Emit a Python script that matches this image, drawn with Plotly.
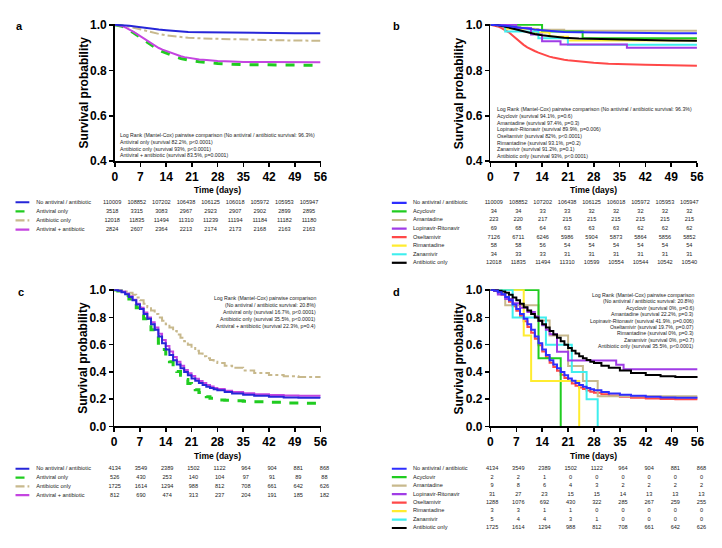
import plotly.graph_objects as go

W, H = 722, 548
FONT = "Liberation Sans"
TICK_DAYS = [0, 7, 14, 21, 28, 35, 42, 49, 56]

# ---------------- data: panel a / b (large groups) ----------------
AB_DAYS_COARSE = [0, 2, 4, 6, 8, 10, 12, 14, 17, 20, 24, 28, 35, 42, 49, 56]
ab_none = [1.0, 0.999, 0.996, 0.992, 0.987, 0.982, 0.979, 0.976, 0.972, 0.969, 0.967, 0.966, 0.965, 0.964, 0.9635, 0.963]
ab_abx = [1.0, 0.998, 0.992, 0.984, 0.975, 0.966, 0.96, 0.954, 0.948, 0.943, 0.94, 0.938, 0.935, 0.933, 0.931, 0.93]

AB_DAYS_DENSE = list(range(0, 22)) + [23, 25, 28, 32, 35, 42, 49, 56]
a_antiviral = [1.0, 0.998, 0.994, 0.986, 0.977, 0.966, 0.955, 0.944, 0.932, 0.92, 0.909, 0.899, 0.89, 0.882,
               0.875, 0.868, 0.862, 0.857, 0.852, 0.848, 0.845, 0.842, 0.838, 0.834, 0.83, 0.827, 0.825, 0.824, 0.823, 0.822]
a_both = [1.0, 0.999, 0.995, 0.988, 0.98, 0.97, 0.96, 0.949, 0.938, 0.927, 0.916, 0.906, 0.898, 0.891,
          0.885, 0.878, 0.872, 0.867, 0.862, 0.858, 0.855, 0.852, 0.848, 0.845, 0.841, 0.839, 0.837, 0.836, 0.8355, 0.835]
b_oseltamivir = [1.0, 0.998, 0.993, 0.986, 0.978, 0.967, 0.953, 0.938, 0.925, 0.912, 0.901, 0.892, 0.885, 0.878,
                 0.871, 0.865, 0.86, 0.856, 0.852, 0.849, 0.846, 0.844, 0.84, 0.837, 0.833, 0.829, 0.827, 0.824, 0.822, 0.82]

# panel b small groups (Kaplan-Meier steps)
b_acyclovir_d = [0, 14, 25, 56]
b_acyclovir = [1.0, 0.971, 0.941, 0.941]
b_amantadine_d = [0, 2, 5, 8, 10, 13, 20, 56]
b_amantadine = [1.0, 0.996, 0.991, 0.987, 0.982, 0.978, 0.974, 0.974]
b_lopinavir_d = [0, 7, 11, 14, 19, 37, 56]
b_lopinavir = [1.0, 0.986, 0.957, 0.928, 0.913, 0.899, 0.899]
b_rimantadine_d = [0, 4, 12, 16, 21, 56]
b_rimantadine = [1.0, 0.983, 0.966, 0.948, 0.931, 0.931]
b_zanamivir_d = [0, 4, 13, 21, 56]
b_zanamivir = [1.0, 0.971, 0.941, 0.912, 0.912]

# ---------------- data: panel c / d ----------------
CD_DAYS = list(range(0, 29)) + [30, 32, 35, 38, 42, 46, 50, 56]
cd_none = [1.0, 0.995, 0.985, 0.97, 0.95, 0.925, 0.895, 0.862, 0.825, 0.79, 0.75, 0.71, 0.66, 0.61, 0.565,
           0.525, 0.485, 0.455, 0.427, 0.40, 0.375, 0.352, 0.335, 0.318, 0.304, 0.292, 0.282, 0.273, 0.265,
           0.252, 0.242, 0.232, 0.225, 0.218, 0.213, 0.21, 0.208]
c_both = [1.0, 0.997, 0.99, 0.975, 0.955, 0.93, 0.90, 0.87, 0.835, 0.8, 0.765, 0.725, 0.68, 0.635, 0.59,
          0.55, 0.51, 0.475, 0.445, 0.415, 0.39, 0.37, 0.35, 0.333, 0.318, 0.305, 0.293, 0.283, 0.275,
          0.262, 0.252, 0.243, 0.236, 0.23, 0.227, 0.225, 0.223]
c_antiviral = [1.0, 0.993, 0.98, 0.96, 0.935, 0.905, 0.87, 0.83, 0.79, 0.75, 0.71, 0.66, 0.61, 0.565, 0.52,
               0.475, 0.435, 0.403, 0.375, 0.345, 0.315, 0.29, 0.27, 0.25, 0.233, 0.218, 0.207, 0.2, 0.195,
               0.192, 0.189, 0.185, 0.181, 0.177, 0.173, 0.17, 0.167]
cd_abx = [1.0, 0.998, 0.995, 0.99, 0.98, 0.965, 0.945, 0.925, 0.9, 0.875, 0.85, 0.825, 0.8, 0.775, 0.75,
          0.725, 0.7, 0.675, 0.65, 0.625, 0.6, 0.575, 0.555, 0.535, 0.515, 0.5, 0.487, 0.475, 0.465,
          0.445, 0.43, 0.41, 0.393, 0.378, 0.368, 0.362, 0.355]
d_oseltamivir = [1.0, 0.994, 0.982, 0.965, 0.943, 0.915, 0.882, 0.848, 0.81, 0.772, 0.73, 0.688, 0.643, 0.595, 0.55,
                 0.508, 0.468, 0.437, 0.408, 0.38, 0.355, 0.333, 0.315, 0.299, 0.286, 0.274, 0.264, 0.255, 0.248,
                 0.236, 0.227, 0.218, 0.211, 0.205, 0.201, 0.199, 0.197]

d_acyclovir_d = [0, 13, 19]
d_acyclovir = [1.0, 0.5, 0.0]
d_amantadine_d = [0, 4, 13, 16, 21, 25, 29, 56]
d_amantadine = [1.0, 0.889, 0.778, 0.667, 0.444, 0.333, 0.222, 0.222]
d_lopinavir_d = [0, 2, 4, 6, 8, 10, 12, 13, 14, 15, 16, 18, 21, 34, 36, 56]
d_lopinavir = [1.0, 0.968, 0.935, 0.903, 0.871, 0.839, 0.806, 0.774, 0.742, 0.71, 0.677, 0.548, 0.484, 0.452, 0.419, 0.419]
d_rimantadine_d = [0, 9, 11, 24]
d_rimantadine = [1.0, 0.667, 0.333, 0.0]
d_zanamivir_d = [0, 6, 15, 22, 26, 29]
d_zanamivir = [1.0, 0.8, 0.6, 0.4, 0.2, 0.0]

# ---------------- numbers at risk ----------------
AC_LABELS = ["No antiviral / antibiotic", "Antiviral only", "Antibiotic only", "Antiviral + antibiotic"]
BD_LABELS = ["No antiviral / antibiotic", "Acyclovir", "Amantadine", "Lopinavir-Ritonavir",
             "Oseltamivir", "Rimantadine", "Zanamivir", "Antibiotic only"]

a_risk = [
    [110009, 108852, 107202, 106438, 106125, 106018, 105972, 105953, 105947],
    [3518, 3315, 3083, 2967, 2923, 2907, 2902, 2899, 2895],
    [12018, 11835, 11494, 11310, 11239, 11194, 11184, 11182, 11180],
    [2824, 2607, 2364, 2213, 2174, 2173, 2168, 2163, 2163],
]
b_risk = [
    [110009, 108852, 107202, 106438, 106125, 106018, 105972, 105953, 105947],
    [34, 34, 33, 33, 32, 32, 32, 32, 32],
    [223, 220, 217, 215, 215, 215, 215, 215, 215],
    [69, 68, 64, 63, 63, 63, 62, 62, 62],
    [7126, 6711, 6246, 5986, 5904, 5873, 5864, 5856, 5852],
    [58, 58, 56, 54, 54, 54, 54, 54, 54],
    [34, 33, 33, 31, 31, 31, 31, 31, 31],
    [12018, 11835, 11494, 11310, 10599, 10554, 10544, 10542, 10540],
]
c_risk = [
    [4134, 3549, 2389, 1502, 1122, 964, 904, 881, 868],
    [526, 430, 253, 140, 104, 97, 91, 89, 88],
    [1725, 1614, 1294, 988, 812, 708, 661, 642, 626],
    [812, 690, 474, 313, 237, 204, 191, 185, 182],
]
d_risk = [
    [4134, 3549, 2389, 1502, 1122, 964, 904, 881, 868],
    [2, 2, 1, 0, 0, 0, 0, 0, 0],
    [9, 8, 6, 4, 3, 2, 2, 2, 2],
    [31, 27, 23, 15, 15, 14, 13, 13, 13],
    [1288, 1076, 692, 430, 322, 285, 267, 259, 255],
    [3, 3, 1, 1, 0, 0, 0, 0, 0],
    [5, 4, 4, 3, 1, 0, 0, 0, 0],
    [1725, 1614, 1294, 988, 812, 708, 661, 642, 626],
]

a_notes = ["Log Rank (Mantel-Cox) pairwise comparison (No antiviral / antibiotic survival: 96.3%)",
           "Antiviral only (survival 82.2%, p<0.0001)",
           "Antibiotic only (survival 93%, p<0.0001)",
           "Antiviral + antibiotic (survival 83.5%, p=0.0001)"]
b_notes = ["Log Rank (Mantel-Cox) pairwise comparison (No antiviral / antibiotic survival: 96.3%)",
           "Acyclovir (survival 94.1%, p=0.6)",
           "Amantadine (survival 97.4%, p=0.3)",
           "Lopinavir-Ritonavir (survival 89.9%, p=0.006)",
           "Oseltamivir (survival 82%, p<0.0001)",
           "Rimantadine (survival 93.1%, p=0.2)",
           "Zanamivir (survival 91.2%, p=0.1)",
           "Antibiotic only (survival 93%, p<0.0001)"]
c_notes = ["Log Rank (Mantel-Cox) pairwise comparison",
           "(No antiviral / antibiotic survival: 20.8%)",
           "Antiviral only (survival 16.7%, p<0.0001)",
           "Antibiotic only (survival 35.5%, p<0.0001)",
           "Antiviral + antibiotic (survival 22.3%, p=0.4)"]
d_notes = ["Log Rank (Mantel-Cox) pairwise comparison",
           "(No antiviral / antibiotic survival: 20.8%)",
           "Acyclovir (survival 0%, p=0.6)",
           "Amantadine (survival 22.2%, p=0.3)",
           "Lopinavir-Ritonavir (survival 41.9%, p=0.006)",
           "Oseltamivir (survival 19.7%, p=0.07)",
           "Rimantadine (survival 0%, p=0.3)",
           "Zanamivir (survival 0%, p=0.7)",
           "Antibiotic only (survival 35.5%, p<0.0001)"]

# ---------------- styles ----------------
BLUE_AC = "#2626d8"
BLUE_BD = "#2e2eff"
GREEN = "#20cc20"
TAN = "#c8b98d"
MAGENTA = "#c445e0"
PURPLE = "#a03ce6"
RED = "#ff4848"
YELLOW = "#ffec30"
CYAN = "#3eeeee"
BLACK = "#000000"

ST_AC = [dict(color=BLUE_AC, width=2), dict(color=GREEN, width=3, dash="dash"),
         dict(color=TAN, width=2, dash="dashdot"), dict(color=MAGENTA, width=2)]
ST_BD = [dict(color=BLUE_BD, width=2), dict(color=GREEN, width=2), dict(color=TAN, width=2),
         dict(color=PURPLE, width=2), dict(color=RED, width=2), dict(color=YELLOW, width=2),
         dict(color=CYAN, width=2), dict(color=BLACK, width=2)]


def py2y(py):
    return 1 - py / H


def vdomain(py_lo, py_hi, lo, hi, hi_ext):
    ppu = (py_lo - py_hi) / (hi - lo)
    top = py_hi - (hi_ext - hi) * ppu
    return [py2y(py_lo), py2y(top)]


fig = go.Figure()

PANELS = {
    1: dict(x=(113.3, 322.0), ylo=159.0, yhi=19.3, lo=0.4, ext=1.004, ticks=[0.4, 0.6, 0.8, 1.0]),
    2: dict(x=(494.3, 703.7), ylo=159.0, yhi=19.3, lo=0.4, ext=1.004, ticks=[0.4, 0.6, 0.8, 1.0]),
    3: dict(x=(112.7, 322.0), ylo=430.7, yhi=291.0, lo=0.0, ext=1.006, ticks=[0.0, 0.2, 0.4, 0.6, 0.8, 1.0]),
    4: dict(x=(494.3, 704.3), ylo=430.7, yhi=291.0, lo=0.0, ext=1.006, ticks=[0.0, 0.2, 0.4, 0.6, 0.8, 1.0]),
}

axfont = dict(family=FONT, size=12, color="black", weight="bold")
layout = {}
for k, p in PANELS.items():
    sx = "" if k == 1 else str(k)
    layout["xaxis" + sx] = dict(domain=[p["x"][0] / W, p["x"][1] / W], range=[0, 56], tickvals=TICK_DAYS,
                                anchor="y" + sx, showline=True, linecolor="black", linewidth=1.6,
                                ticks="outside", ticklen=4, tickwidth=1.6, tickcolor="black",
                                showgrid=False, zeroline=False, tickfont=axfont, fixedrange=True)
    layout["yaxis" + sx] = dict(domain=vdomain(p["ylo"], p["yhi"], p["lo"], 1.0, p["ext"]),
                                range=[p["lo"], p["ext"]], tickvals=p["ticks"], tickformat=".1f",
                                anchor="x" + sx, showline=True, linecolor="black", linewidth=1.6,
                                ticks="outside", ticklen=4, tickwidth=1.6, tickcolor="black",
                                showgrid=False, zeroline=False, tickfont=axfont, fixedrange=True)


def curve(k, x, y, style, shape="linear"):
    sx = "" if k == 1 else str(k)
    fig.add_trace(go.Scatter(x=x, y=y, mode="lines", line=dict(shape=shape, **style),
                             xaxis="x" + sx, yaxis="y" + sx, showlegend=False, hoverinfo="skip"))


# panel a
curve(1, AB_DAYS_COARSE, ab_abx, ST_AC[2])
curve(1, AB_DAYS_DENSE, a_antiviral, ST_AC[1])
curve(1, AB_DAYS_DENSE, a_both, ST_AC[3])
curve(1, AB_DAYS_COARSE, ab_none, ST_AC[0])

# panel b
curve(2, AB_DAYS_DENSE, b_oseltamivir, ST_BD[4])
curve(2, b_amantadine_d, b_amantadine, ST_BD[2], "hv")
curve(2, b_acyclovir_d, b_acyclovir, ST_BD[1], "hv")
curve(2, b_rimantadine_d, b_rimantadine, ST_BD[5], "hv")
curve(2, b_zanamivir_d, b_zanamivir, ST_BD[6], "hv")
curve(2, b_lopinavir_d, b_lopinavir, ST_BD[3], "hv")
curve(2, AB_DAYS_COARSE, ab_abx, ST_BD[7])
curve(2, AB_DAYS_COARSE, ab_none, ST_BD[0])

# panel c
curve(3, CD_DAYS, cd_abx, ST_AC[2], "hv")
curve(3, CD_DAYS, c_antiviral, ST_AC[1], "hv")
curve(3, CD_DAYS, c_both, ST_AC[3], "hv")
curve(3, CD_DAYS, cd_none, ST_AC[0], "hv")

# panel d
curve(4, CD_DAYS, d_oseltamivir, ST_BD[4], "hv")
curve(4, d_amantadine_d, d_amantadine, ST_BD[2], "hv")
curve(4, d_acyclovir_d, d_acyclovir, ST_BD[1], "hv")
curve(4, d_rimantadine_d, d_rimantadine, ST_BD[5], "hv")
curve(4, d_zanamivir_d, d_zanamivir, ST_BD[6], "hv")
curve(4, d_lopinavir_d, d_lopinavir, ST_BD[3], "hv")
curve(4, CD_DAYS, cd_abx, ST_BD[7], "hv")
curve(4, CD_DAYS, cd_none, ST_BD[0], "hv")

# ---------------- numbers-at-risk tables ----------------
TABLES = [
    (5, (0, 361), 110.7, 310.3, 201.0, 9.33, (12.7, 26.7), 35.7, AC_LABELS, a_risk, ST_AC),
    (6, (361, 722), 497.7, 696.0, 201.7, 8.76, (394.3, 409.3), 417.7, BD_LABELS, b_risk, ST_BD),
    (7, (0, 361), 113.3, 326.0, 474.0, 9.0, (12.7, 26.7), 35.7, AC_LABELS, c_risk, ST_AC),
    (8, (361, 722), 496.0, 708.3, 474.0, 8.67, (394.3, 409.3), 417.7, BD_LABELS, d_risk, ST_BD),
]
tfont = dict(family=FONT, size=5.6, color="#222222")
for aid, dom, p0, p56, row0, step, sw, lab, labels, risk, styles in TABLES:
    s = (p56 - p0) / 56.0
    n = len(labels)
    layout["xaxis%d" % aid] = dict(domain=[dom[0] / W, dom[1] / W],
                                   range=[(dom[0] - p0) / s, (dom[1] - p0) / s], visible=False, fixedrange=True)
    top = row0 - step / 2
    bot = row0 + step * (n - 0.5)
    layout["yaxis%d" % aid] = dict(domain=[py2y(bot), py2y(top)], range=[n - 0.5, -0.5],
                                   visible=False, fixedrange=True)
    xa, ya = "x%d" % aid, "y%d" % aid
    for i in range(n):
        st = dict(styles[i])
        st["width"] = 2.2
        fig.add_trace(go.Scatter(x=[(sw[0] - p0) / s, (sw[1] - p0) / s], y=[i, i], mode="lines",
                                 line=st, xaxis=xa, yaxis=ya, showlegend=False, hoverinfo="skip"))
        fig.add_trace(go.Scatter(x=TICK_DAYS, y=[i] * len(TICK_DAYS), mode="text",
                                 text=[str(v) for v in risk[i]], textposition="middle center",
                                 textfont=tfont, xaxis=xa, yaxis=ya, showlegend=False,
                                 hoverinfo="skip", cliponaxis=False))
    fig.add_trace(go.Scatter(x=[(lab - 2 - p0) / s] * n, y=list(range(n)), mode="text", text=labels,
                             textposition="middle right", textfont=tfont, xaxis=xa, yaxis=ya,
                             showlegend=False, hoverinfo="skip", cliponaxis=False))

# ---------------- annotations ----------------
ann = []
nfont = dict(family=FONT, size=5.2, color="#222222")


def note_block(lines, x_px, y0, dy, anchor):
    for i, t in enumerate(lines):
        ann.append(dict(text=t, x=x_px / W, y=py2y(y0 + dy * i), xref="paper", yref="paper",
                        xanchor=anchor, yanchor="middle", showarrow=False, font=nfont))


note_block(a_notes, 116.7, 132.3, 6.9, "left")
note_block(b_notes, 498.7, 105.7, 6.85, "left")
note_block(c_notes, 319.3, 299.3, 7.0, "right")
note_block(d_notes, 703.0, 296.0, 6.55, "right")

titlefont = dict(family=FONT, size=12, color="black", weight="bold")
xtfont = dict(family=FONT, size=8.5, color="black", weight="bold")
for (xc, yc, ytc, xt_y) in [(81.7, 89.0, 217.7, 188.3), (462.7, 89.0, 599.0, 188.0),
                            (81.7, 360.8, 217.4, 460.7), (462.7, 360.8, 599.3, 460.7)]:
    ann.append(dict(text="Survival probability", x=xc / W, y=py2y(yc), xref="paper", yref="paper",
                    textangle=-90, showarrow=False, font=titlefont, xanchor="center", yanchor="middle"))
    ann.append(dict(text="Time (days)", x=ytc / W, y=py2y(xt_y), xref="paper", yref="paper",
                    showarrow=False, font=xtfont, xanchor="center", yanchor="middle"))

letfont = dict(family=FONT, size=11, color="black", weight="bold")
for t, x, y in [("a", 16.7, 20.0), ("b", 399.3, 20.0), ("c", 18.3, 293.3), ("d", 399.3, 293.3)]:
    ann.append(dict(text=t, x=x / W, y=py2y(y), xref="paper", yref="paper", showarrow=False,
                    font=letfont, xanchor="center", yanchor="middle"))

fig.update_layout(width=W, height=H, margin=dict(l=0, r=0, t=0, b=0), paper_bgcolor="white",
                  plot_bgcolor="white", annotations=ann, showlegend=False, **layout)

fig.write_html("out.html", config={"displayModeBar": False, "staticPlot": True},
               post_script="document.body.style.margin='0';document.body.style.overflow='hidden';")
